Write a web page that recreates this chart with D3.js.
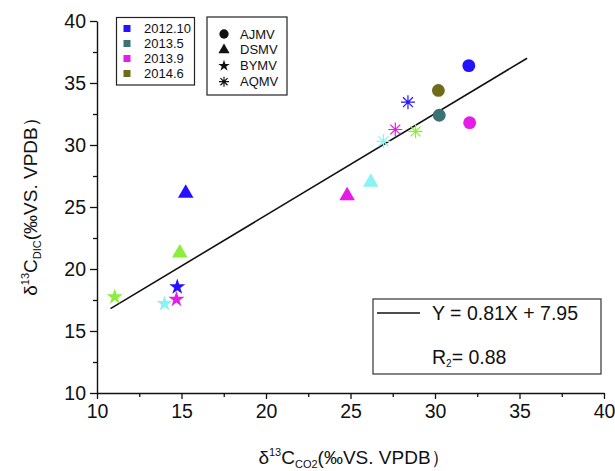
<!DOCTYPE html>
<!-- d13C DIC vs CO2 scatter with regression line and two legends -->
<html>
<head>
<meta charset="utf-8">
<style>
  body { margin: 0; background: #fff; }
  text { font-family: "Liberation Sans", Arial, sans-serif; fill: #111; }
</style>
</head>
<body>
<div id="chart_div"></div>

<script src="https://d3js.org/d3.v7.min.js"></script>

<script>

// ---- data ----
const periods = ["2012.10", "2013.5", "2013.9", "2014.6"];
const sites = ["AJMV", "DSMV", "BYMV", "AQMV"];

// one entry per point
const pointSite  = ["AJMV", "AJMV", "AJMV", "AJMV",
                    "DSMV", "DSMV", "DSMV", "DSMV",
                    "BYMV", "BYMV", "BYMV", "BYMV",
                    "AQMV", "AQMV", "AQMV", "AQMV"];
const pointGroup = ["blue", "olive", "teal", "magenta",
                    "blue", "lime", "cyan", "magenta",
                    "blue", "magenta", "cyan", "lime",
                    "blue", "magenta", "lime", "cyan"];
const co2Values  = [32.0, 30.2, 30.25, 32.05,
                    15.25, 14.9, 26.2, 24.8,
                    14.75, 14.7, 14.0, 11.05,
                    28.4, 27.65, 28.85, 26.95];
const dicValues  = [36.4, 34.4, 32.4, 31.8,
                    26.1, 21.3, 27.0, 25.9,
                    18.55, 17.55, 17.2, 17.75,
                    33.45, 31.25, 31.1, 30.3];

// regression line end points
const fitX = [10.8, 35.45];
const fitY = [16.8, 37.0];
const fitText = "Y = 0.81X + 7.95";
const r2Value = "0.88";

const majorTicks = [10, 15, 20, 25, 30, 35, 40];
const minorTicks = [12.5, 17.5, 22.5, 27.5, 32.5, 37.5];

// ---- styles ----
const groupColor = {
  blue: "#2412ff", teal: "#3c7272", magenta: "#e81ae8", olive: "#6f6a1c",
  lime: "#8aef3a", cyan: "#8af3f3"
};
const periodGroup = ["blue", "teal", "magenta", "olive"];

let width = 615, height = 471;

let svg = d3.select("#chart_div")
  .append("svg")
    .attr("width", width)
    .attr("height", height)
    .style("background", "#fff");

let x = d3.scaleLinear().domain([10, 40]).range([97, 604]);
let y = d3.scaleLinear().domain([10, 40]).range([393, 21]);

// x axis: major + minor ticks, pointing down
let xAxisG = svg.append("g").attr("transform", "translate(0," + y(10) + ")");
xAxisG.call(d3.axisBottom(x).tickValues(majorTicks).tickSize(6).tickSizeOuter(0).tickPadding(5));
xAxisG.append("g").call(d3.axisBottom(x).tickValues(minorTicks).tickSize(4).tickFormat(""))
  .select(".domain").remove();

// y axis
let yAxisG = svg.append("g").attr("transform", "translate(" + x(10) + ",0)");
yAxisG.call(d3.axisLeft(y).tickValues(majorTicks).tickSize(7).tickSizeOuter(0).tickPadding(4));
yAxisG.append("g").call(d3.axisLeft(y).tickValues(minorTicks).tickSize(4).tickFormat(""))
  .select(".domain").remove();

svg.selectAll(".domain").attr("stroke", "#111").attr("stroke-width", 1.4);
svg.selectAll(".tick line").attr("stroke", "#111").attr("stroke-width", 1.3);
svg.selectAll(".tick text")
  .attr("font-size", 19.5)
  .attr("font-family", "Liberation Sans, Arial, sans-serif")
  .attr("fill", "#111");

// regression line
svg.append("line")
  .attr("x1", x(fitX[0])).attr("y1", y(fitY[0]))
  .attr("x2", x(fitX[1])).attr("y2", y(fitY[1]))
  .attr("stroke", "#111")
  .attr("stroke-width", 1.6);

// symbols
const symbolSize = { AJMV: 130, DSMV: 105, BYMV: 80 };
function asteriskPath(r) {
  let p = "";
  for (let i = 0; i < 4; i++) {
    let a = i * Math.PI / 4;
    let dx = r * Math.cos(a), dy = r * Math.sin(a);
    p += "M" + (-dx) + "," + (-dy) + "L" + dx + "," + dy;
  }
  return p;
}
function symbolPath(site, scale) {
  if (site === "AQMV") return asteriskPath(7 * scale);
  let type = site === "AJMV" ? d3.symbolCircle : site === "DSMV" ? d3.symbolTriangle : d3.symbolStar;
  return d3.symbol().type(type).size(symbolSize[site] * scale * scale)();
}

let points = co2Values.map((v, i) => ({
  co2: v, dic: dicValues[i], site: pointSite[i], group: pointGroup[i]
}));

svg.selectAll("path.point")
  .data(points)
  .enter()
  .append("path")
    .attr("class", "point")
    .attr("transform", d => "translate(" + x(d.co2) + "," + y(d.dic) + ")")
    .attr("d", d => symbolPath(d.site, 1))
    .attr("fill", d => d.site === "AQMV" ? "none" : groupColor[d.group])
    .attr("stroke", d => d.site === "AQMV" ? groupColor[d.group] : "none")
    .attr("stroke-width", 1.2);

// legend 1: sampling periods
let leg1 = svg.append("g");
leg1.append("rect")
  .attr("x", 116.5).attr("y", 17.5).attr("width", 78).attr("height", 67.5)
  .attr("fill", "#fff").attr("stroke", "#222").attr("stroke-width", 1.2);
periods.forEach((p, i) => {
  let cy = 28.5 + i * 15;
  leg1.append("rect")
    .attr("x", 123.5).attr("y", cy - 3.5).attr("width", 7).attr("height", 7)
    .attr("fill", groupColor[periodGroup[i]]);
  leg1.append("text")
    .attr("x", 144).attr("y", cy + 4.5)
    .attr("font-size", 13)
    .text(p);
});

// legend 2: sites
let leg2 = svg.append("g");
leg2.append("rect")
  .attr("x", 207).attr("y", 17).attr("width", 80).attr("height", 78)
  .attr("fill", "#fff").attr("stroke", "#222").attr("stroke-width", 1.2);
sites.forEach((s, i) => {
  let cy = 34 + i * 15.9;
  leg2.append("path")
    .attr("transform", "translate(224," + cy + ")")
    .attr("d", symbolPath(s, 0.72))
    .attr("fill", s === "AQMV" ? "none" : "#111")
    .attr("stroke", s === "AQMV" ? "#111" : "none")
    .attr("stroke-width", 1.2);
  leg2.append("text")
    .attr("x", 240).attr("y", cy + 4.5)
    .attr("font-size", 13)
    .text(s);
});

// regression legend
let leg3 = svg.append("g");
leg3.append("rect")
  .attr("x", 373).attr("y", 299).attr("width", 228).attr("height", 75)
  .attr("fill", "#fff").attr("stroke", "#333").attr("stroke-width", 1.2);
leg3.append("line")
  .attr("x1", 377).attr("x2", 420).attr("y1", 313).attr("y2", 313)
  .attr("stroke", "#111").attr("stroke-width", 1.4);
leg3.append("text")
  .attr("x", 432).attr("y", 320)
  .attr("font-size", 19.5)
  .text(fitText);
let r2 = leg3.append("text")
  .attr("x", 432).attr("y", 364)
  .attr("font-size", 19.5);
r2.append("tspan").text("R");
r2.append("tspan").attr("font-size", 10).attr("dy", 3).text("2");
r2.append("tspan").attr("dy", -3).text("= " + r2Value);

// axis titles
function axisTitle(g, sub) {
  g.append("tspan").text("δ");
  g.append("tspan").attr("font-size", 11).attr("dy", -8).text("13");
  g.append("tspan").attr("dy", 8).text("C");
  g.append("tspan").attr("font-size", 11).attr("dy", 4).text(sub);
  g.append("tspan").attr("dy", -4).text("(‰VS. VPDB）");
}
let xTitle = svg.append("text")
  .attr("x", 354).attr("y", 464)
  .attr("text-anchor", "middle")
  .attr("font-size", 19);
axisTitle(xTitle, "CO2");

let yTitle = svg.append("text")
  .attr("transform", "translate(37,202) rotate(-90)")
  .attr("text-anchor", "middle")
  .attr("font-size", 19);
axisTitle(yTitle, "DIC");

</script>
</body>
</html>
